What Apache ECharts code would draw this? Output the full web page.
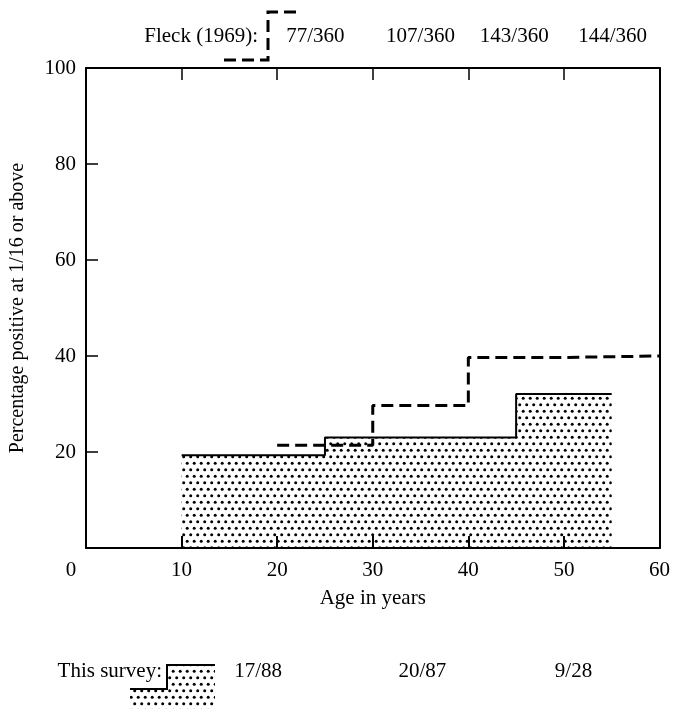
<!DOCTYPE html>
<html><head><meta charset="utf-8">
<script src="https://cdn.jsdelivr.net/npm/echarts/dist/echarts.min.js"></script>
<style>html,body{margin:0;padding:0;background:#fff}#c{width:673px;height:709px}</style>
</head><body><div id="c"></div>
<script>
// Data
const surveyAges = [10, 25, 45, 55];
const surveyPct = [19.3, 23.0, 32.1, 32.1];
const surveyLabels = ['17/88', '20/87', '9/28'];
const surveyLabelAges = [18, 35.2, 51];
const fleckAges = [20, 30, 40, 50, 60];
const fleckPct = [21.4, 29.7, 39.7, 40.0, 40.0];
const fleckLabels = ['77/360', '107/360', '143/360', '144/360'];
const fleckLabelAges = [24, 35, 44.8, 55.1];
const xTickStep = 10, xMin = 0, xMax = 60;
const yTickStep = 20, yMin = 0, yMax = 100;

const FONT = '"Liberation Serif", "Times New Roman", serif';
function dotCanvas() {
  const c = document.createElement('canvas');
  c.width = 7; c.height = 13;
  const g = c.getContext('2d');
  g.fillStyle = '#000';
  g.beginPath(); g.arc(1.7, 1.7, 1.5, 0, 2 * Math.PI); g.fill();
  g.beginPath(); g.arc(5.2, 8.2, 1.5, 0, 2 * Math.PI); g.fill();
  return c;
}
const dots = dotCanvas();

const chart = echarts.init(document.getElementById('c'), null, {renderer: 'canvas'});
const mkLine = () => ({show: true, onZero: false, lineStyle: {color: '#000', width: 2}});
const mkTick = () => ({show: true, inside: true, length: 12, lineStyle: {color: '#000', width: 1.5}});
chart.setOption({
  animation: false,
  backgroundColor: '#fff',
  grid: {left: 84, right: 11, top: 68, bottom: 161},
  xAxis: [{
    type: 'value', min: xMin, max: xMax, interval: xTickStep, z: 5,
    axisLine: mkLine(), axisTick: {show: true, inside: true, length: 12, lineStyle: {color: '#000', width: 2}},
    splitLine: {show: false},
    axisLabel: {
      color: '#000', fontFamily: FONT, fontSize: 21, margin: 12,
      formatter: v => v === 0 ? '{z|0}' : String(v),
      rich: {z: {color: '#000', fontFamily: FONT, fontSize: 21, padding: [0, 30, 0, 0]}}
    },
    name: 'Age in years', nameLocation: 'middle', nameGap: 40,
    nameTextStyle: {color: '#000', fontFamily: FONT, fontSize: 21}
  }, {
    type: 'value', position: 'top', min: xMin, max: xMax, interval: xTickStep, z: 5,
    axisLine: mkLine(), axisTick: mkTick(), axisLabel: {show: false}, splitLine: {show: false}
  }],
  yAxis: [{
    type: 'value', min: yMin, max: yMax, interval: yTickStep, z: 5,
    axisLine: mkLine(), axisTick: mkTick(), splitLine: {show: false},
    axisLabel: {color: '#000', fontFamily: FONT, fontSize: 21, margin: 10,
      formatter: v => v === 0 ? '' : String(v)},
    name: 'Percentage positive at 1/16 or above', nameLocation: 'middle', nameGap: 58,
    nameTextStyle: {color: '#000', fontFamily: FONT, fontSize: 20}
  }, {
    type: 'value', position: 'right', min: yMin, max: yMax, interval: yTickStep, z: 5,
    axisLine: mkLine(), axisTick: {show: false}, axisLabel: {show: false}, splitLine: {show: false}
  }],
  series: [{
    type: 'line', step: 'end', symbol: 'none', z: 1,
    data: surveyAges.map((a, i) => [a, surveyPct[i]]),
    lineStyle: {color: '#000', width: 2},
    areaStyle: {color: {image: dots, repeat: 'repeat'}, opacity: 1}
  }, {
    type: 'line', step: 'end', symbol: 'none', z: 1,
    data: fleckAges.map((a, i) => [a, fleckPct[i]]),
    lineStyle: {color: '#000', width: 3, type: [12, 6]}
  }]
});

const tstyle = (text, x, y, align) => ({type: 'text', style: {text, x, y, fill: '#000',
  font: '21px ' + FONT, align: align || 'center', verticalAlign: 'middle'}});
const g = [];
g.push(tstyle('Fleck (1969):', 258, 36, 'right'));
g.push({type: 'polyline', shape: {points: [[224, 60], [268, 60], [268, 12], [298, 12]]},
  style: {stroke: '#000', lineWidth: 3, lineDash: [12, 6], fill: null}});
fleckLabels.forEach((t, i) => {
  g.push(tstyle(t, chart.convertToPixel({xAxisIndex: 0}, fleckLabelAges[i]), 36));
});
g.push(tstyle('This survey:', 162, 671, 'right'));
g.push({type: 'polygon', shape: {points: [[130, 689], [167, 689], [167, 665], [215, 665], [215, 709], [130, 709]]},
  style: {fill: {image: dots, repeat: 'repeat'}, stroke: null}});
g.push({type: 'polyline', shape: {points: [[130, 689], [167, 689], [167, 665], [215, 665]]},
  style: {stroke: '#000', lineWidth: 2, fill: null}});
surveyLabels.forEach((t, i) => {
  g.push(tstyle(t, chart.convertToPixel({xAxisIndex: 0}, surveyLabelAges[i]), 671));
});
chart.setOption({graphic: g});
</script></body></html>
